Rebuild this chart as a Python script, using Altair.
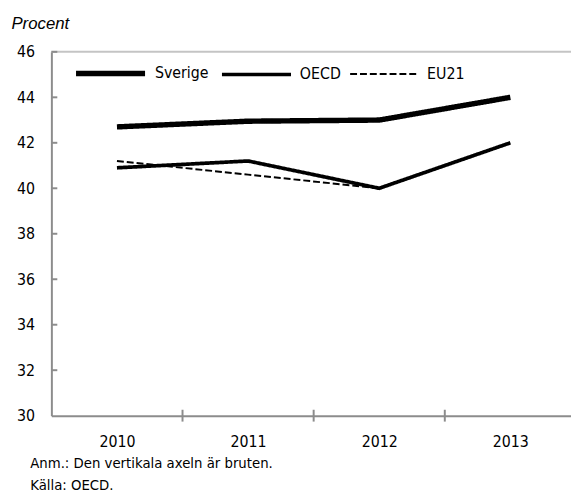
import altair as alt
import pandas as pd

years = [2010, 2011, 2012, 2013]
sverige = [42.7, 42.95, 43.0, 44.0]
oecd = [40.9, 41.2, 40.0, 42.0]
eu21_years = [2010, 2011, 2012]
eu21 = [41.2, 40.6, 40.0]
series_order = ["Sverige", "OECD", "EU21"]
y_ticks = [30, 32, 34, 36, 38, 40, 42, 44, 46]
x_tick_years = [2011, 2012, 2013]
y_title = "Procent"
notes = ["Anm.: Den vertikala axeln är bruten.", "Källa: OECD."]

rows = []
for y, v in zip(years, sverige):
    rows.append({"year": y, "value": v, "series": "Sverige"})
for y, v in zip(years, oecd):
    rows.append({"year": y, "value": v, "series": "OECD"})
for y, v in zip(eu21_years, eu21):
    rows.append({"year": y, "value": v, "series": "EU21"})
df = pd.DataFrame(rows)

FONT = "DejaVu Sans Condensed, sans-serif"
AXIS_GRAY = "#8c8c8c"
W, H = 527, 369

xscale = alt.Scale(domain=[2009.5, 2013.5], range=[0, 532], nice=False, zero=False)
yscale = alt.Scale(domain=[30, 46], nice=False, zero=False)

lines = alt.Chart(df).mark_line(color="black", strokeCap="butt", strokeJoin="round").encode(
    x=alt.X("year:Q", scale=xscale,
            axis=alt.Axis(values=years, format="d", tickSize=0, labelPadding=18,
                          domainColor=AXIS_GRAY, domainWidth=2, grid=False,
                          labelFont=FONT, labelFontSize=16, labelColor="black",
                          title=notes, titleFont=FONT, titleFontSize=15, titleFontWeight="normal",
                          titleColor="black", titleAlign="left", titleAnchor="start",
                          titleBaseline="top", titleX=-22, titleY=41, titleLineHeight=22)),
    y=alt.Y("value:Q", scale=yscale,
            axis=alt.Axis(values=y_ticks, tickSize=0, labelPadding=17,
                          domainColor=AXIS_GRAY, domainWidth=2, grid=False,
                          labelFont=FONT, labelFontSize=16, labelColor="black",
                          title=y_title, titleFont="Liberation Sans", titleFontSize=17,
                          titleFontStyle="italic", titleFontWeight="normal", titleColor="black",
                          titleAngle=0, titleAlign="left", titleBaseline="middle",
                          titleX=-41, titleY=-29)),
    strokeWidth=alt.StrokeWidth("series:N", scale=alt.Scale(domain=series_order, range=[5.5, 2, 2.5]),
                                legend=alt.Legend(title=None)),
    strokeDash=alt.StrokeDash("series:N", scale=alt.Scale(domain=series_order, range=[[1, 0], [1, 0], [7, 3]]),
                              legend=alt.Legend(title=None)),
    detail="series:N",
)

top_border = alt.Chart(pd.DataFrame({"v": [y_ticks[-1]]})).mark_rule(color="#c4c4c4", strokeWidth=2).encode(
    y=alt.Y("v:Q", scale=yscale)
)

ytick_rules = alt.Chart(pd.DataFrame({"v": y_ticks[1:]})).mark_rule(color=AXIS_GRAY, strokeWidth=2).encode(
    y=alt.Y("v:Q", scale=yscale), x=alt.value(0), x2=alt.value(6)
)

xtick_df = pd.DataFrame({"b": [y - 0.5 for y in x_tick_years]})
xtick_rules = alt.Chart(xtick_df).mark_rule(color=AXIS_GRAY, strokeWidth=2).encode(
    x=alt.X("b:Q", scale=xscale), y=alt.value(H - 6), y2=alt.value(H + 6)
)

chart = alt.layer(top_border, ytick_rules, xtick_rules, lines).properties(
    width=W, height=H,
    autosize=alt.AutoSizeParams(type="none"),
    padding={"left": 44, "top": 41, "right": 0, "bottom": 78},
).configure_view(stroke=None).configure_legend(
    orient="none", legendX=22, legendY=-16, direction="horizontal",
    symbolType="stroke", symbolSize=4900, symbolStrokeColor="black",
    labelFont=FONT, labelFontSize=16, labelColor="black",
    columnPadding=5, labelOffset=7,
)

chart.save("out.html", embed_options={"renderer": "svg", "actions": False})
